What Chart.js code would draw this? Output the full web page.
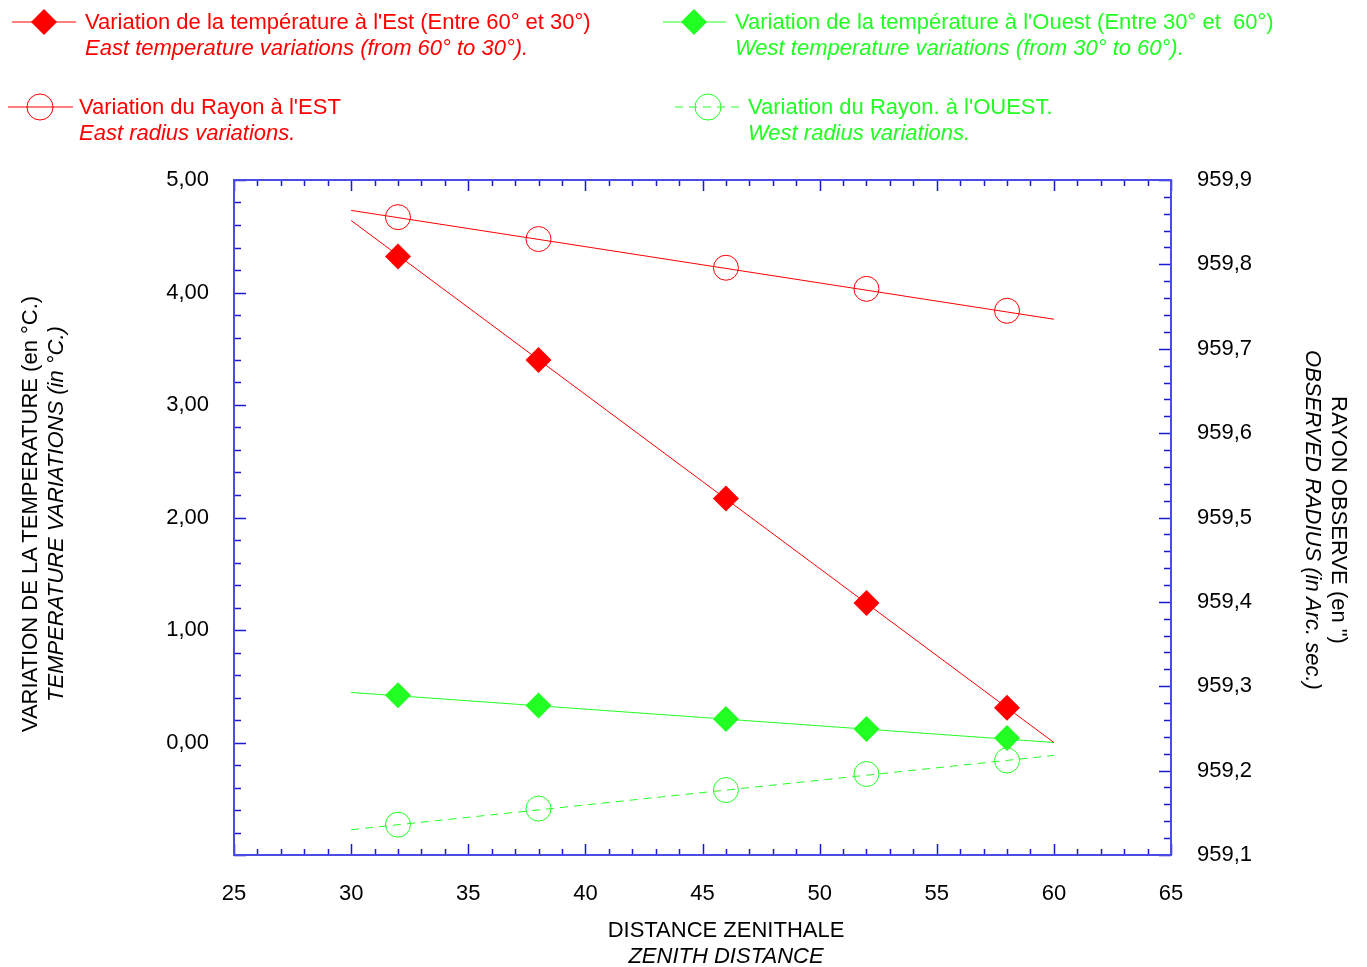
<!DOCTYPE html>
<html>
<head>
<meta charset="utf-8">
<script src="https://cdn.jsdelivr.net/npm/chart.js@4.4.1/dist/chart.umd.min.js"></script>
<style>
  body { margin: 0; background: #fff; font-family: "Liberation Sans", Arial, sans-serif; }
  #wrap { position: relative; width: 1367px; height: 967px; overflow: hidden; }
  canvas { position: absolute; left: 0; top: 0; }
  .txt { position: absolute; font-size: 22px; line-height: 26px; white-space: nowrap; }
  .it { font-style: italic; }
  .red { color: #ff0000; }
  .green { color: #22ff22; }
  .sym { position: absolute; }
  .rot { position: absolute; width: 600px; text-align: center; font-size: 22px; line-height: 26px; color: #000; white-space: nowrap; }
</style>
</head>
<body>
<div id="wrap">
  <canvas id="chart" width="1367" height="967"></canvas>

  <!-- legende -->
  <svg class="sym" style="left:0;top:0" width="800" height="140">
    <line x1="12" y1="22" x2="76" y2="22" stroke="#ff0000" stroke-width="1"/>
    <polygon points="44,9 57,22 44,35 31,22" fill="#ff0000"/>
    <line x1="663" y1="22" x2="726" y2="22" stroke="#22ff22" stroke-width="1"/>
    <polygon points="694,9 707,22 694,35 681,22" fill="#22ff22"/>
    <line x1="8" y1="107" x2="73" y2="107" stroke="#ff0000" stroke-width="1"/>
    <circle cx="40" cy="107" r="13" fill="none" stroke="#ff0000" stroke-width="1"/>
    <line x1="675" y1="107" x2="742" y2="107" stroke="#22ff22" stroke-width="1" stroke-dasharray="8,6"/>
    <circle cx="708" cy="107" r="13" fill="none" stroke="#22ff22" stroke-width="1"/>
  </svg>
  <div class="txt red" style="left:85px;top:9px">Variation de la température à l'Est (Entre 60° et 30°)<br><span class="it">East temperature variations (from 60° to 30°).</span></div>
  <div class="txt green" style="left:735px;top:9px">Variation de la température à l'Ouest (Entre 30° et &nbsp;60°)<br><span class="it">West temperature variations (from 30° to 60°).</span></div>
  <div class="txt red" style="left:79px;top:94px">Variation du Rayon à l'EST<br><span class="it">East radius variations.</span></div>
  <div class="txt green" style="left:748px;top:94px">Variation du Rayon. à l'OUEST.<br><span class="it">West radius variations.</span></div>

  <!-- titres des axes -->
  <div class="rot" style="left:-257px;top:488px;transform:rotate(-90deg)">VARIATION DE LA TEMPERATURE (en °C.)<br><span class="it">TEMPERATURE VARIATIONS (in °C.)</span></div>
  <div class="rot" style="left:1026px;top:494px;transform:rotate(90deg)">RAYON OBSERVE (en ")<br><span class="it">OBSERVED RADIUS (in Arc. sec.)</span></div>
  <div class="rot" style="left:426px;top:917px">DISTANCE ZENITHALE<br><span class="it">ZENITH DISTANCE</span></div>
</div>

<script>
// distances zenithales des mesures
const distances = [32, 38, 46, 52, 58];
const eastTemp = [4.32, 3.40, 2.17, 1.24, 0.31];
const westTemp = [0.42, 0.33, 0.21, 0.12, 0.04];
const eastRadius = [959.856, 959.830, 959.796, 959.771, 959.745];
const westRadius = [959.136, 959.155, 959.177, 959.196, 959.212];

// droites d'ajustement (extrémités)
const fitEnds = [30, 60];
const eastTempFit = [4.64, 0.0];
const westTempFit = [0.445, 0.0];
const eastRadiusFit = [959.864, 959.735];
const westRadiusFit = [959.130, 959.218];

const RED = '#ff0000';
const GREEN = '#22ff22';
const AXIS = '#4b4be6';
const TICK = '#1a1ad0';

const pts = (xs, ys) => xs.map((x, i) => ({ x: x, y: ys[i] }));

// cadre et graduations internes
const frameTicks = {
    id: 'frameTicks',
    afterDatasetsDraw(chart) {
        const { ctx, chartArea: a, scales } = chart;
        ctx.save();
        ctx.strokeStyle = TICK;
        ctx.lineWidth = 1.5;
        ctx.beginPath();
        for (let v = 25; v <= 65; v++) {
            const px = Math.round(scales.x.getPixelForValue(v)) + 0.5;
            const len = v % 5 === 0 ? 11 : 6;
            ctx.moveTo(px, a.bottom); ctx.lineTo(px, a.bottom - len);
            ctx.moveTo(px, a.top); ctx.lineTo(px, a.top + len);
        }
        for (let i = 0; i <= 30; i++) {
            const v = -1 + i * 0.2;
            const py = Math.round(scales.y.getPixelForValue(v)) + 0.5;
            const len = i % 5 === 0 ? 12 : 7;
            ctx.moveTo(a.left, py); ctx.lineTo(a.left + len, py);
        }
        for (let i = 0; i <= 40; i++) {
            const v = 959.1 + i * 0.02;
            const py = Math.round(scales.y2.getPixelForValue(v)) + 0.5;
            const len = i % 5 === 0 ? 12 : 7;
            ctx.moveTo(a.right, py); ctx.lineTo(a.right - len, py);
        }
        ctx.stroke();
        ctx.strokeStyle = AXIS;
        ctx.lineWidth = 2;
        ctx.strokeRect(a.left, a.top, a.right - a.left, a.bottom - a.top);
        ctx.restore();
    }
};

const tickFont = { family: '"Liberation Sans", Arial, sans-serif', size: 22 };

new Chart(document.getElementById('chart').getContext('2d'), {
    type: 'scatter',
    data: {
        datasets: [
            { data: pts(fitEnds, eastTempFit), yAxisID: 'y', showLine: true, borderColor: RED, borderWidth: 1, pointRadius: 0 },
            { data: pts(fitEnds, westTempFit), yAxisID: 'y', showLine: true, borderColor: GREEN, borderWidth: 1, pointRadius: 0 },
            { data: pts(fitEnds, eastRadiusFit), yAxisID: 'y2', showLine: true, borderColor: RED, borderWidth: 1, pointRadius: 0 },
            { data: pts(fitEnds, westRadiusFit), yAxisID: 'y2', showLine: true, borderColor: GREEN, borderWidth: 1, borderDash: [8, 6], pointRadius: 0 },
            { data: pts(distances, eastTemp), yAxisID: 'y', pointStyle: 'rectRot', pointRadius: 13, backgroundColor: RED, borderColor: RED, borderWidth: 0 },
            { data: pts(distances, westTemp), yAxisID: 'y', pointStyle: 'rectRot', pointRadius: 13, backgroundColor: GREEN, borderColor: GREEN, borderWidth: 0 },
            { data: pts(distances, eastRadius), yAxisID: 'y2', pointStyle: 'circle', pointRadius: 12.5, backgroundColor: 'rgba(0,0,0,0)', borderColor: RED, borderWidth: 1 },
            { data: pts(distances, westRadius), yAxisID: 'y2', pointStyle: 'circle', pointRadius: 12.5, backgroundColor: 'rgba(0,0,0,0)', borderColor: GREEN, borderWidth: 1 }
        ]
    },
    options: {
        responsive: false,
        animation: false,
        layout: { padding: { top: 180, left: 0, right: 0, bottom: 0 } },
        plugins: { legend: { display: false }, tooltip: { enabled: false } },
        scales: {
            x: {
                type: 'linear', min: 25, max: 65,
                grid: { display: false, drawTicks: false }, border: { display: false },
                ticks: { stepSize: 5, padding: 26, color: '#000', font: tickFont },
                afterFit: s => { s.height = 112; }
            },
            y: {
                position: 'left', min: -1, max: 5,
                grid: { display: false, drawTicks: false }, border: { display: false },
                ticks: {
                    stepSize: 1, padding: 25, color: '#000', font: tickFont,
                    callback: v => v < 0 ? '' : v.toFixed(2).replace('.', ',')
                },
                afterFit: s => { s.width = 234; }
            },
            y2: {
                position: 'right', min: 959.1, max: 959.9,
                grid: { display: false, drawTicks: false }, border: { display: false },
                ticks: {
                    stepSize: 0.1, padding: 26, color: '#000', font: tickFont,
                    callback: v => v.toFixed(1).replace('.', ',')
                },
                afterFit: s => { s.width = 196; }
            }
        }
    },
    plugins: [frameTicks]
});
</script>
</body>
</html>
